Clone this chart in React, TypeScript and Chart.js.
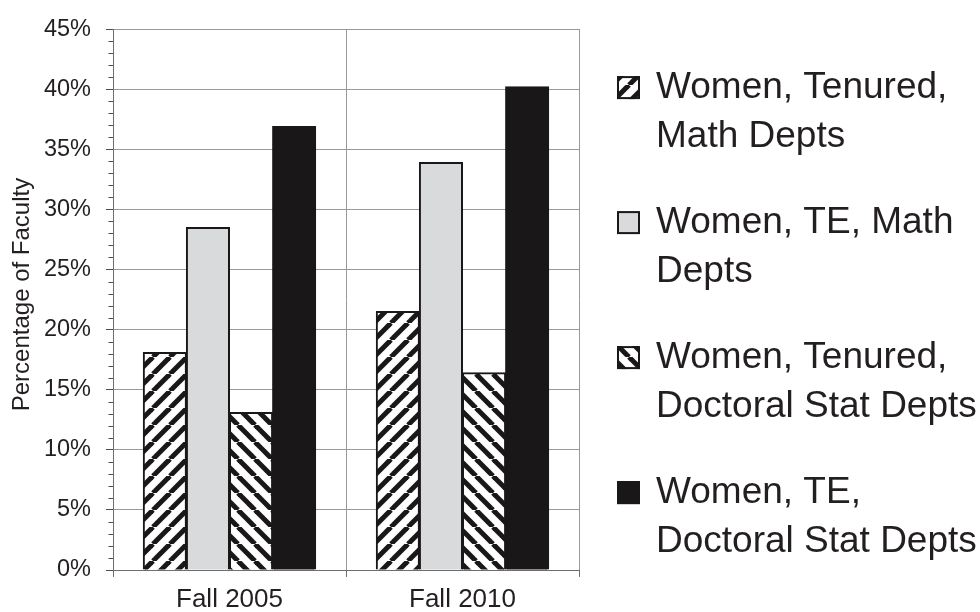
import { useEffect, useRef } from 'react';
import { Chart, registerables } from 'chart.js';

Chart.register(...registerables);

const categories = ['Fall 2005', 'Fall 2010'];
const seriesNames = [
  'Women, Tenured, Math Depts',
  'Women, TE, Math Depts',
  'Women, Tenured, Doctoral Stat Depts',
  'Women, TE, Doctoral Stat Depts',
];
const legendLines = [
  ['Women, Tenured,', 'Math Depts'],
  ['Women, TE, Math', 'Depts'],
  ['Women, Tenured,', 'Doctoral Stat Depts'],
  ['Women, TE,', 'Doctoral Stat Depts'],
];
const tenuredMath = [18.1, 21.5];
const teMath = [28.5, 33.9];
const tenuredStat = [13.1, 16.4];
const teStat = [36.9, 40.2];

const yMin = 0;
const yMax = 45;
const yStep = 5;
const minorStep = 1;
const yTitle = 'Percentage of Faculty';

const FONT = "'Liberation Sans', Arial, Helvetica, sans-serif";
const TEXT = '#231f20';
const INK = '#1a1718';

function makeHatch(ctx: CanvasRenderingContext2D, dir: 1 | -1) {
  const s = 17;
  const c = document.createElement('canvas');
  c.width = s;
  c.height = s;
  const g = c.getContext('2d')!;
  g.fillStyle = '#ffffff';
  g.fillRect(0, 0, s, s);
  g.strokeStyle = INK;
  g.lineWidth = 5;
  for (const k of [-1, 0, 1]) {
    g.beginPath();
    if (dir === 1) {
      g.moveTo(k * s, s);
      g.lineTo(k * s + s, 0);
    } else {
      g.moveTo(k * s, 0);
      g.lineTo(k * s + s, s);
    }
    g.stroke();
  }
  return ctx.createPattern(c, 'repeat') as CanvasPattern;
}

const extrasPlugin = {
  id: 'extras',
  afterDraw(chart: any) {
    const ctx: CanvasRenderingContext2D = chart.ctx;
    const y = chart.scales.y;
    const area = chart.chartArea;
    ctx.save();
    // minor ticks on the value axis
    ctx.strokeStyle = '#4d4d4d';
    ctx.lineWidth = 1;
    for (let v = yMin; v <= yMax; v += minorStep) {
      if (v % yStep === 0) continue;
      const py = Math.round(y.getPixelForValue(v)) + 0.5;
      ctx.beginPath();
      ctx.moveTo(area.left - 4.5, py);
      ctx.lineTo(area.left, py);
      ctx.stroke();
    }
    // value-axis title
    ctx.save();
    ctx.translate(22, (area.top + area.bottom) / 2 - 5);
    ctx.rotate(-Math.PI / 2);
    ctx.font = `24px ${FONT}`;
    ctx.fillStyle = TEXT;
    ctx.textAlign = 'center';
    ctx.textBaseline = 'middle';
    ctx.fillText(yTitle, 0, 0);
    ctx.restore();
    // legend
    const markerX = area.right + 38;
    const textX = area.right + 77;
    const firstBase = area.top + 69;
    const entryGap = 135;
    const lineGap = 49;
    const size = 23;
    ctx.font = `37px ${FONT}`;
    ctx.textBaseline = 'alphabetic';
    ctx.textAlign = 'left';
    chart.data.datasets.forEach((ds: any, i: number) => {
      const base = firstBase + i * entryGap;
      const my = base - 22;
      ctx.fillStyle = ds.backgroundColor;
      ctx.fillRect(markerX, my, size, size);
      ctx.strokeStyle = INK;
      ctx.lineWidth = 2;
      ctx.strokeRect(markerX + 1, my + 1, size - 2, size - 2);
      ctx.fillStyle = TEXT;
      legendLines[i].forEach((line, j) => {
        ctx.fillText(line, textX, base + j * lineGap);
      });
    });
    ctx.restore();
  },
};

export default function App() {
  const ref = useRef<HTMLCanvasElement | null>(null);

  useEffect(() => {
    const canvas = ref.current!;
    const ctx = canvas.getContext('2d')!;
    const hatchUp = makeHatch(ctx, 1);
    const hatchDown = makeHatch(ctx, -1);
    const fills = [hatchUp, '#d9dadb', hatchDown, INK];
    const values = [tenuredMath, teMath, tenuredStat, teStat];

    const chart = new Chart(canvas, {
      type: 'bar',
      data: {
        labels: categories,
        datasets: values.map((v, i) => ({
          label: seriesNames[i],
          data: v,
          backgroundColor: fills[i] as any,
          borderColor: INK,
          borderWidth: 2,
          categoryPercentage: 0.74,
          barPercentage: 1.0,
          inflateAmount: 0.5,
        })),
      },
      options: {
        animation: false,
        responsive: false,
        devicePixelRatio: 1,
        layout: { padding: { top: 24, right: 401, bottom: 0, left: 0 } },
        plugins: {
          legend: { display: false },
          tooltip: { enabled: false },
        },
        scales: {
          x: {
            grid: {
              offset: true,
              color: '#999999',
              tickColor: '#6e6e6e',
              tickLength: 7,
              lineWidth: 1,
            },
            border: { color: '#6e6e6e', width: 1 },
            ticks: {
              color: TEXT,
              font: { family: FONT, size: 26 },
              padding: 7,
            },
            afterFit: (s: any) => {
              s.height = 42;
            },
          },
          y: {
            min: yMin,
            max: yMax,
            ticks: {
              stepSize: yStep,
              color: TEXT,
              font: { family: FONT, size: 23.5 },
              padding: 15,
              callback: (v: any) => `${v}%`,
            },
            grid: {
              color: '#999999',
              tickColor: '#4d4d4d',
              tickLength: 7,
              lineWidth: 1,
            },
            border: { color: '#6e6e6e', width: 1 },
            title: { display: false },
            afterFit: (s: any) => {
              s.width = 113;
            },
          },
        },
      },
      plugins: [extrasPlugin],
    });
    return () => chart.destroy();
  }, []);

  return (
    <div style={{ position: 'absolute', left: 0, top: 0, width: 980, height: 612, background: '#fff' }}>
      <canvas ref={ref} width={980} height={612} style={{ display: 'block' }} />
    </div>
  );
}
